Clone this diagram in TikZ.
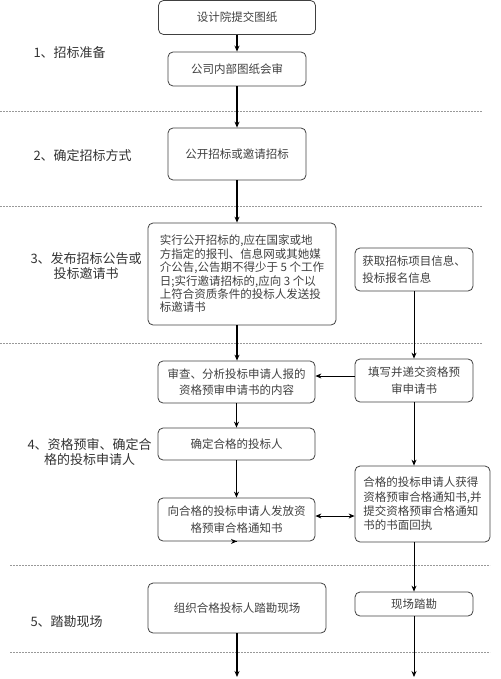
\documentclass[tikz,border=0pt]{standalone}
\usepackage{fontspec}
\setmainfont{Noto Sans CJK SC}
\usetikzlibrary{arrows.meta}

\begin{document}
\begin{tikzpicture}[x=1pt, y=-1pt,
    box/.style={draw=black!75, line width=0.8pt, rounded corners=5pt, inner sep=0pt,
        align=center, text=black!75, font=\fontsize{11.5}{16.5}\selectfont},
    stage/.style={anchor=west, align=center, text=black!80, font=\fontsize{13}{14.5}\selectfont},
    mainflow/.style={line width=1.6pt, -{Stealth[length=6pt,width=5pt]}},
    sideflow/.style={line width=0.8pt, -{Stealth[length=6pt,width=5pt]}},
    divider/.style={draw=black!40, line width=0.6pt, dash pattern=on 2pt off 1pt}]

    \useasboundingbox (0,0) rectangle (500,679);

    % dashed dividers between the stages
    \foreach \y/\l/\r in {111/0/482, 206/0/482, 343/0/482, 565/10/490, 652/10/490}
        \draw[divider] (\l,\y) -- (\r,\y);

    % stage labels
    \node[stage] (s1) at (30,53) {1、招标准备};
    \node[stage] (s2) at (30,156) {2、确定招标方式};
    \node[stage] (s3) at (27,266) {3、发布招标公告或\\投标邀请书};
    \node[stage] (s4) at (24,452) {4、资格预审、确定合\\格的投标申请人};
    \node[stage] (s5) at (27,622) {5、踏勘现场};

    % left column
    \node[box, minimum width=157pt, minimum height=34pt] (design) at (237,17.5) {设计院提交图纸};
    \node[box, minimum width=138pt, minimum height=34pt] (review) at (237,69) {公司内部图纸会审};
    \node[box, minimum width=138pt, minimum height=52pt] (mode) at (237,154) {公开招标或邀请招标};
    \node[box, minimum width=188pt, minimum height=102pt, align=left,
        font=\fontsize{11.5}{13.4}\selectfont] (notice) at (242,274)
        {实行公开招标的,应在国家或地\\方指定的报刊、信息网或其她媒\\介公告,公告期不得少于 5 个工作\\日;实行邀请招标的,应向 3 个以\\上符合资质条件的投标人发送投\\标邀请书};
    \node[box, minimum width=157pt, minimum height=42pt] (check) at (236.5,382) {审查、分析投标申请人报的\\资格预审申请书的内容};
    \node[box, minimum width=157pt, minimum height=32pt] (qualify) at (236.5,444) {确定合格的投标人};
    \node[box, minimum width=157pt, minimum height=43pt] (issue) at (236.5,519.5) {向合格的投标申请人发放资\\格预审合格通知书};
    \node[box, minimum width=178pt, minimum height=50pt] (visit) at (237,608) {组织合格投标人踏勘现场};

    % right column
    \node[box, minimum width=118pt, minimum height=43pt, align=left] (info) at (414,269.5) {获取招标项目信息、\\投标报名信息};
    \node[box, minimum width=118pt, minimum height=43pt] (apply) at (414,380.5) {填写并递交资格预\\审申请书};
    \node[box, minimum width=135pt, minimum height=76pt, align=left,
        font=\fontsize{11.5}{14.4}\selectfont] (receipt) at (422.5,504)
        {合格的投标申请人获得\\资格预审合格通知书,并\\提交资格预审合格通知\\书的书面回执};
    \node[box, minimum width=118pt, minimum height=24pt] (site) at (414,604) {现场踏勘};

    \coordinate (endl) at (237,677);
    \coordinate (endr) at (414,677);

    % main flow
    \draw[mainflow] (design) -- (review);
    \draw[mainflow] (review) -- (mode);
    \draw[mainflow] (mode) -- (mode |- notice.north);
    \draw[mainflow] (mode |- notice.south) -- (mode |- check.north);
    \draw[mainflow] (check) -- (qualify);
    \draw[mainflow] (qualify) -- (issue);
    \draw[mainflow] (issue) -- (issue.south -| visit.north);
    \draw[mainflow] (visit) -- (endl);

    % side flow
    \draw[sideflow] (info) -- (apply);
    \draw[sideflow] (apply.south) -- (apply.south |- receipt.north);
    \draw[sideflow] (apply.south |- receipt.south) -- (site);
    \draw[sideflow] (site) -- (endr);
    \draw[sideflow] (apply.west |- 0,376) -- (check.east |- 0,376);
    \draw[sideflow, {Stealth[length=6pt,width=5pt]}-{Stealth[length=6pt,width=5pt]}]
        (issue.east |- 0,516) -- (receipt.west |- 0,516);
\end{tikzpicture}
\end{document}
